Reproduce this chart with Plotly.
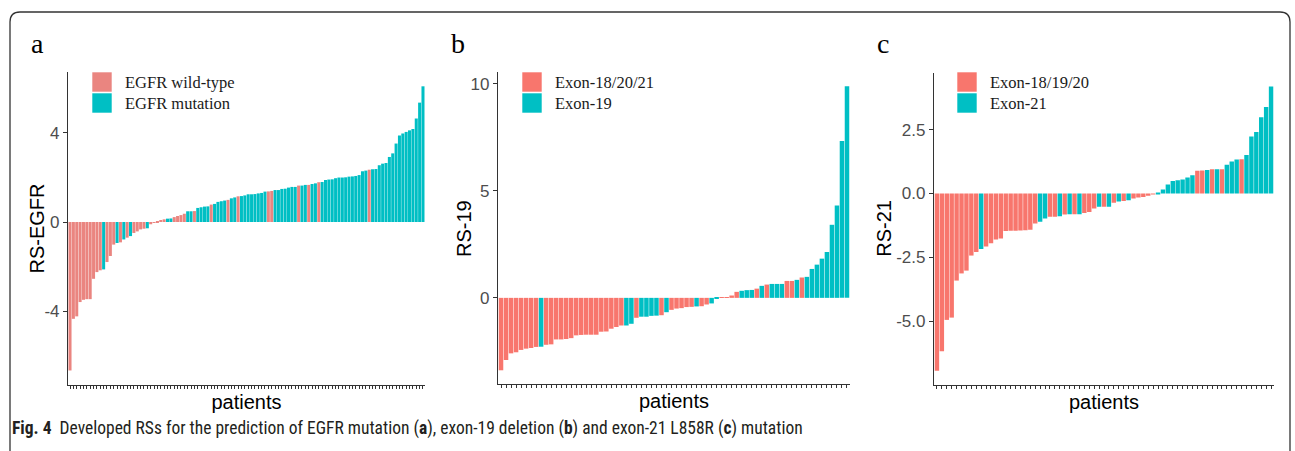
import plotly.graph_objects as go

W, H = 1295, 451

# ---------------- data ----------------
# Panel a: RS-EGFR, group 0 = EGFR wild-type, 1 = EGFR mutation
a_values = [-6.64, -4.33, -4.22, -3.58, -3.48, -3.45, -3.45, -2.54, -2.24, -2.16,
            -2.12, -1.79, -1.52, -1.01, -0.94, -0.91, -0.78, -0.70, -0.63, -0.49,
            -0.42, -0.33, -0.30, -0.28, -0.10, -0.04,
            0.04, 0.09, 0.12, 0.15, 0.16, 0.22, 0.27, 0.31, 0.37, 0.48,
            0.48, 0.49, 0.63, 0.66, 0.69, 0.70, 0.78, 0.81, 0.90, 0.93,
            0.96, 0.99, 1.06, 1.10, 1.15, 1.16, 1.19, 1.24,
            1.24, 1.25, 1.28, 1.30, 1.36, 1.37, 1.39, 1.43, 1.43, 1.48,
            1.49, 1.54, 1.57, 1.57, 1.63, 1.63, 1.66, 1.66, 1.70, 1.73,
            1.78, 1.79, 1.88, 1.90, 1.91, 1.96, 1.99, 1.99, 2.00, 2.03,
            2.04, 2.06, 2.10, 2.27, 2.30, 2.34, 2.36, 2.37, 2.54, 2.61,
            2.64, 2.91, 3.07, 3.51, 3.87, 3.96, 4.03, 4.10, 4.16, 4.63,
            5.34, 6.07]
a_groups = [0, 0, 0, 0, 0, 0, 0, 0, 0, 0,
            1, 0, 0, 0, 1, 0, 1, 0, 1, 0,
            0, 0, 0, 1, 0, 0,
            0, 0, 0, 1, 1, 0, 0, 0, 0, 1,
            1, 0, 1, 1, 1, 1, 0, 1, 1, 1,
            1, 0, 1, 1, 0, 1, 1, 1,
            1, 1, 1, 1, 1, 0, 0, 1, 1, 1,
            1, 1, 1, 1, 0, 1, 1, 0, 1, 1,
            0, 1, 1, 1, 1, 1, 1, 1, 1, 1,
            1, 1, 1, 1, 1, 0, 1, 1, 1, 1,
            1, 1, 1, 1, 1, 1, 1, 1, 1, 1,
            1, 1]
a_names = ["EGFR wild-type", "EGFR mutation"]

# Panel b: RS-19, group 0 = Exon-18/20/21, 1 = Exon-19
b_values = [-3.38, -2.90, -2.59, -2.54, -2.43, -2.37, -2.34, -2.29, -2.28, -2.19,
            -2.17, -1.94, -1.94, -1.92, -1.88, -1.75, -1.73, -1.72, -1.72, -1.72,
            -1.58, -1.57, -1.44, -1.36, -1.29, -1.29, -1.21, -0.93, -0.88, -0.88,
            -0.84, -0.83, -0.81, -0.67, -0.56, -0.50, -0.48, -0.43, -0.42, -0.40,
            -0.39, -0.31, -0.26, -0.03, 0.01, 0.03, 0.11, 0.28, 0.33, 0.36,
            0.37, 0.43, 0.56, 0.62, 0.65, 0.65, 0.65, 0.79, 0.79, 0.84,
            0.95, 0.98, 1.35, 1.55, 1.83, 2.14, 3.41, 4.31, 7.32, 9.88]
b_groups = [0, 0, 0, 0, 0, 0, 0, 0, 1, 0,
            0, 0, 0, 0, 0, 0, 0, 0, 0, 0,
            0, 0, 0, 0, 0, 1, 1, 0, 1, 1,
            1, 1, 0, 1, 0, 0, 0, 0, 0, 1,
            0, 0, 1, 1, 0, 0, 0, 0, 1, 1,
            1, 0, 1, 0, 1, 1, 1, 0, 0, 1,
            0, 1, 1, 1, 1, 1, 1, 1, 1, 1]
b_names = ["Exon-18/20/21", "Exon-19"]

# Panel c: RS-21, group 0 = Exon-18/19/20, 1 = Exon-21
c_values = [-6.94, -6.18, -4.95, -4.86, -3.41, -3.13, -3.02, -2.43, -2.29, -2.17,
            -2.08, -1.95, -1.80, -1.76, -1.47, -1.46, -1.46, -1.45, -1.44, -1.42,
            -1.17, -1.11, -0.98, -0.91, -0.91, -0.89, -0.82, -0.81, -0.81, -0.81,
            -0.76, -0.72, -0.59, -0.52, -0.52, -0.52, -0.36, -0.31, -0.29, -0.26,
            -0.20, -0.16, -0.14, -0.09, -0.01, 0.04, 0.16, 0.35, 0.49, 0.52,
            0.55, 0.63, 0.72, 0.89, 0.90, 0.92, 0.95, 0.95, 0.95, 1.13,
            1.25, 1.33, 1.34, 1.51, 2.23, 2.41, 2.99, 3.39, 4.19]
c_groups = [0, 0, 0, 0, 0, 0, 0, 0, 0, 1,
            0, 0, 0, 0, 0, 0, 0, 0, 0, 0,
            0, 1, 1, 0, 0, 1, 0, 1, 0, 1,
            0, 0, 0, 1, 0, 1, 0, 1, 0, 1,
            0, 0, 0, 0, 0, 1, 1, 1, 1, 1,
            1, 1, 1, 0, 0, 1, 0, 1, 0, 1,
            1, 1, 0, 1, 1, 1, 1, 1, 1]
c_names = ["Exon-18/19/20", "Exon-21"]

PINK = "#F8766D"
PINK_A = "#EA8580"
TEAL = "#00BFC4"

# ---------------- layout geometry (pixels) ----------------
def px_x(v):
    return v / W

def px_y(v):
    return 1 - v / H

panels = [
    dict(key="a", vals=a_values, grps=a_groups, names=a_names, ytitle="RS-EGFR",
         xd=(68, 425), yd=(72, 385), yr=(-7.29, 6.71), ytv=[-4, 0, 4], ytt=["-4", "0", "4"],
         pink=PINK_A, sx=92, letter_x=37, title_x=37),
    dict(key="b", vals=b_values, grps=b_groups, names=b_names, ytitle="RS-19",
         xd=(498, 850), yd=(72, 384), yr=(-4.02, 10.54), ytv=[0, 5, 10], ytt=["0", "5", "10"],
         pink=PINK, sx=522, letter_x=458, title_x=464),
    dict(key="c", vals=c_values, grps=c_groups, names=c_names, ytitle="RS-21",
         xd=(934, 1274), yd=(72.5, 385), yr=(-7.5, 4.74), ytv=[-5, -2.5, 0, 2.5],
         ytt=["-5.0", "-2.5", "0.0", "2.5"],
         pink=PINK, sx=957, letter_x=883, title_x=884),
]

fig = go.Figure()
layout = dict(
    width=W, height=H, margin=dict(l=0, r=0, t=0, b=0),
    paper_bgcolor="white", plot_bgcolor="white",
    barmode="overlay", bargap=0.1, showlegend=False,
    annotations=[], shapes=[],
)

AX_COLOR = "#333333"
TICK_FONT = dict(family="Liberation Sans, Arial, sans-serif", size=17, color="#4D4D4D")
TITLE_FONT = dict(family="Liberation Sans, Arial, sans-serif", size=20, color="black")
LEG_FONT = dict(family="Liberation Serif, Times New Roman, serif", size=16.5, color="#1A1A1A")

for i, p in enumerate(panels):
    n = len(p["vals"])
    xs = list(range(1, n + 1))
    suffix = "" if i == 0 else str(i + 1)
    colors = (p["pink"], TEAL)
    for g in (0, 1):
        gx = [x for x, gg in zip(xs, p["grps"]) if gg == g]
        gy = [v for v, gg in zip(p["vals"], p["grps"]) if gg == g]
        fig.add_trace(go.Bar(
            x=gx, y=gy, name=p["names"][g], marker_color=colors[g],
            marker_line_width=0, width=0.9,
            xaxis="x" + suffix, yaxis="y" + suffix,
        ))
    layout["xaxis" + suffix] = dict(
        domain=[px_x(p["xd"][0]), px_x(p["xd"][1])], range=[0.4, n + 0.6],
        anchor="y" + suffix, showline=True, linecolor=AX_COLOR, linewidth=1.2,
        ticks="outside", ticklen=3, tickwidth=0.8, tickcolor=AX_COLOR,
        tickmode="array", tickvals=xs, showticklabels=False,
        showgrid=False, zeroline=False, automargin=False,
        title=dict(text="patients", font=TITLE_FONT, standoff=6),
    )
    layout["yaxis" + suffix] = dict(
        domain=[px_y(p["yd"][1]), px_y(p["yd"][0])], range=list(p["yr"]),
        anchor="x" + suffix, showline=True, linecolor=AX_COLOR, linewidth=1.2,
        ticks="outside", ticklen=4, tickwidth=1, tickcolor=AX_COLOR,
        tickmode="array", tickvals=p["ytv"], ticktext=p["ytt"], tickfont=TICK_FONT,
        showgrid=False, zeroline=False, automargin=False,
    )
    # y-axis title
    ymid = (p["yd"][0] + p["yd"][1]) / 2
    layout["annotations"].append(dict(
        text=p["ytitle"], x=px_x(p["title_x"]), y=px_y(ymid), xref="paper", yref="paper",
        xanchor="center", yanchor="middle", textangle=-90, showarrow=False, font=TITLE_FONT,
    ))
    # legend (keys + labels)
    for g in (0, 1):
        top = 72 + 21 * g
        layout["shapes"].append(dict(
            type="rect", xref="paper", yref="paper",
            x0=px_x(p["sx"]), x1=px_x(p["sx"] + 20), y0=px_y(top + 20), y1=px_y(top),
            fillcolor=colors[g], line=dict(color="white", width=0.6),
        ))
        layout["annotations"].append(dict(
            text=p["names"][g], x=px_x(p["sx"] + 31), y=px_y(top + 10.5),
            xref="paper", yref="paper", xanchor="left", yanchor="middle",
            showarrow=False, font=LEG_FONT,
        ))
    # panel letter
    layout["annotations"].append(dict(
        text=p["key"], x=px_x(p["letter_x"]), y=px_y(43), xref="paper", yref="paper",
        xanchor="center", yanchor="middle", showarrow=False,
        font=dict(family="Liberation Serif, Times New Roman, serif", size=28, color="black"),
    ))

layout["annotations"].append(dict(
    text="<b>Fig. 4</b>  Developed RSs for the prediction of EGFR mutation (<b>a</b>), "
         "exon-19 deletion (<b>b</b>) and exon-21 L858R (<b>c</b>) mutation",
    x=px_x(10), y=px_y(428), xref="paper", yref="paper",
    xanchor="left", yanchor="middle", showarrow=False,
    font=dict(family="Liberation Sans Narrow, Arial Narrow, Roboto Condensed, sans-serif",
              size=17.5, color="#231F20"),
))

# rounded frame around the figure
def P(x, y):
    return f"{px_x(x):.6f},{px_y(y):.6f}"

frame = (f"M {P(10, 455)} L {P(10, 22)} Q {P(10, 12)} {P(20, 12)} "
         f"L {P(1280, 12)} Q {P(1290, 12)} {P(1290, 22)} L {P(1290, 455)}")
layout["shapes"].append(dict(type="path", path=frame, xref="paper", yref="paper",
                             line=dict(color="#333333", width=1.3)))

fig.update_layout(**layout)
fig.write_html("out.html")
